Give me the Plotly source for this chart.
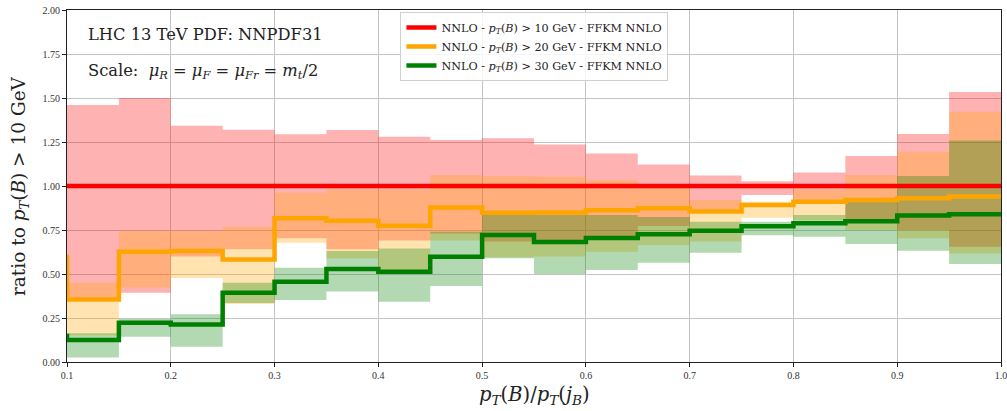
import numpy as np
import plotly.graph_objects as go

# ---------------- data ----------------
bin_edges = [0.10, 0.15, 0.20, 0.25, 0.30, 0.35, 0.40, 0.45, 0.50, 0.55,
             0.60, 0.65, 0.70, 0.75, 0.80, 0.85, 0.90, 0.95, 1.00]

# central ratios (steps-pre: first value is the level entering x=0.1)
ratio_10 = [1.0] * 19
ratio_20 = [0.61, 0.355, 0.627, 0.630, 0.583, 0.817, 0.803, 0.774, 0.878, 0.848,
            0.849, 0.862, 0.873, 0.855, 0.892, 0.911, 0.920, 0.930, 0.940]
ratio_30 = [0.16, 0.125, 0.223, 0.213, 0.394, 0.456, 0.528, 0.513, 0.598, 0.722,
            0.682, 0.704, 0.726, 0.746, 0.772, 0.788, 0.800, 0.833, 0.840]

# scale-variation bands, one value per bin (18 bins)
up_10 = [1.460, 1.500, 1.343, 1.320, 1.294, 1.318, 1.280, 1.261, 1.271, 1.236,
         1.185, 1.122, 1.060, 1.027, 1.077, 1.170, 1.295, 1.534]
lo_10 = [0.350, 0.394, 0.600, 0.640, 0.703, 0.640, 0.690, 0.730, 0.684, 0.690,
         0.710, 0.773, 0.855, 0.949, 0.920, 0.800, 0.750, 0.655]
up_20 = [0.450, 0.744, 0.744, 0.767, 0.962, 0.980, 0.980, 1.062, 1.055, 1.052,
         1.034, 1.010, 0.920, 0.911, 0.980, 1.062, 1.195, 1.422]
lo_20 = [0.150, 0.424, 0.477, 0.330, 0.678, 0.590, 0.523, 0.690, 0.595, 0.600,
         0.627, 0.665, 0.684, 0.820, 0.807, 0.750, 0.703, 0.617]
up_30 = [0.163, 0.245, 0.272, 0.450, 0.535, 0.630, 0.645, 0.740, 0.835, 0.835,
         0.835, 0.824, 0.797, 0.797, 0.835, 0.915, 1.057, 1.258]
lo_30 = [0.025, 0.144, 0.087, 0.335, 0.352, 0.400, 0.343, 0.432, 0.590, 0.500,
         0.523, 0.564, 0.621, 0.720, 0.712, 0.670, 0.632, 0.557]

labels = ["NNLO - <i>p<sub>T</sub></i>(<i>B</i>) > 10 GeV - FFKM NNLO",
          "NNLO - <i>p<sub>T</sub></i>(<i>B</i>) > 20 GeV - FFKM NNLO",
          "NNLO - <i>p<sub>T</sub></i>(<i>B</i>) > 30 GeV - FFKM NNLO"]

y_ticks = [0.0, 0.25, 0.5, 0.75, 1.0, 1.25, 1.5, 1.75, 2.0]
x_ticks = [0.1, 0.2, 0.3, 0.4, 0.5, 0.6, 0.7, 0.8, 0.9, 1.0]

# ---------------- figure ----------------
SERIF = "DejaVu Serif"
TICKF = "Liberation Serif"
fig = go.Figure()

band_specs = [(lo_10, up_10, "rgba(255,0,0,0.3)"),
              (lo_20, up_20, "rgba(255,165,0,0.3)"),
              (lo_30, up_30, "rgba(0,128,0,0.3)")]
for lo, up, col in band_specs:
    lo_s = np.r_[lo[0], lo]
    up_s = np.r_[up[0], up]
    fig.add_trace(go.Scatter(x=bin_edges, y=lo_s, mode="lines", line=dict(width=0, shape="vh"),
                             showlegend=False, hoverinfo="skip"))
    fig.add_trace(go.Scatter(x=bin_edges, y=up_s, mode="lines", line=dict(width=0, shape="vh"),
                             fill="tonexty", fillcolor=col, showlegend=False, hoverinfo="skip"))

line_specs = [(ratio_10, "#ff0000", labels[0]),
              (ratio_20, "#ffa500", labels[1]),
              (ratio_30, "#008000", labels[2])]
for yv, col, name in line_specs:
    fig.add_trace(go.Scatter(x=bin_edges, y=yv, mode="lines", name=name,
                             line=dict(color=col, width=4.5, shape="vh")))

axis_common = dict(showline=True, linecolor="#222", linewidth=1.2, mirror=True,
                   showgrid=True, gridcolor="#c4c4c4", gridwidth=1,
                   ticks="outside", ticklen=4, tickcolor="#222", tickwidth=1,
                   tickfont=dict(family=TICKF, size=10, color="#333"), zeroline=False,
                   ticklabeloverflow="allow", automargin=False)

fig.update_xaxes(range=[0.1, 1.0], tickvals=x_ticks, tickformat=".1f", **axis_common)
fig.update_yaxes(range=[0.0, 2.0], tickvals=y_ticks, tickformat=".2f", **axis_common)

fig.update_layout(
    width=1007, height=411,
    margin=dict(l=67, r=6, t=10, b=49, autoexpand=False),
    paper_bgcolor="white", plot_bgcolor="white",
    font=dict(family=SERIF, color="#222"),
    legend=dict(x=0.357, y=0.994, xanchor="left", yanchor="top", traceorder="normal",
                bgcolor="rgba(255,255,255,0.85)", bordercolor="#d0d0d0", borderwidth=1,
                font=dict(family=SERIF, size=11.2, color="#222"),
                itemwidth=30, tracegroupgap=0),
    annotations=[
        dict(text="LHC 13 TeV PDF: NNPDF31", xref="paper", yref="paper",
             x=0.0203, y=0.929, xanchor="left", yanchor="middle", showarrow=False,
             font=dict(family=SERIF, size=16.3, color="#222")),
        dict(text="Scale:  <i>μ<sub>R</sub></i> = <i>μ<sub>F</sub></i> = <i>μ<sub>Fr</sub></i> = <i>m<sub>t</sub></i>/2",
             xref="paper", yref="paper",
             x=0.0203, y=0.825, xanchor="left", yanchor="middle", showarrow=False,
             font=dict(family=SERIF, size=16.3, color="#222")),
        dict(text="ratio to <i>p<sub>T</sub></i>(<i>B</i>) > 10 GeV", xref="paper", yref="paper",
             x=-0.0503, y=0.5, xanchor="center", yanchor="middle", textangle=-90,
             showarrow=False, font=dict(family=SERIF, size=18.5, color="#222")),
        dict(text="<i>p<sub>T</sub></i>(<i>B</i>)/<i>p<sub>T</sub></i>(<i>j<sub>B</sub></i>)",
             xref="paper", yref="paper",
             x=0.5, y=-0.094, xanchor="center", yanchor="middle", showarrow=False,
             font=dict(family=SERIF, size=19.5, color="#222")),
    ],
)

fig.write_html("out.html")
